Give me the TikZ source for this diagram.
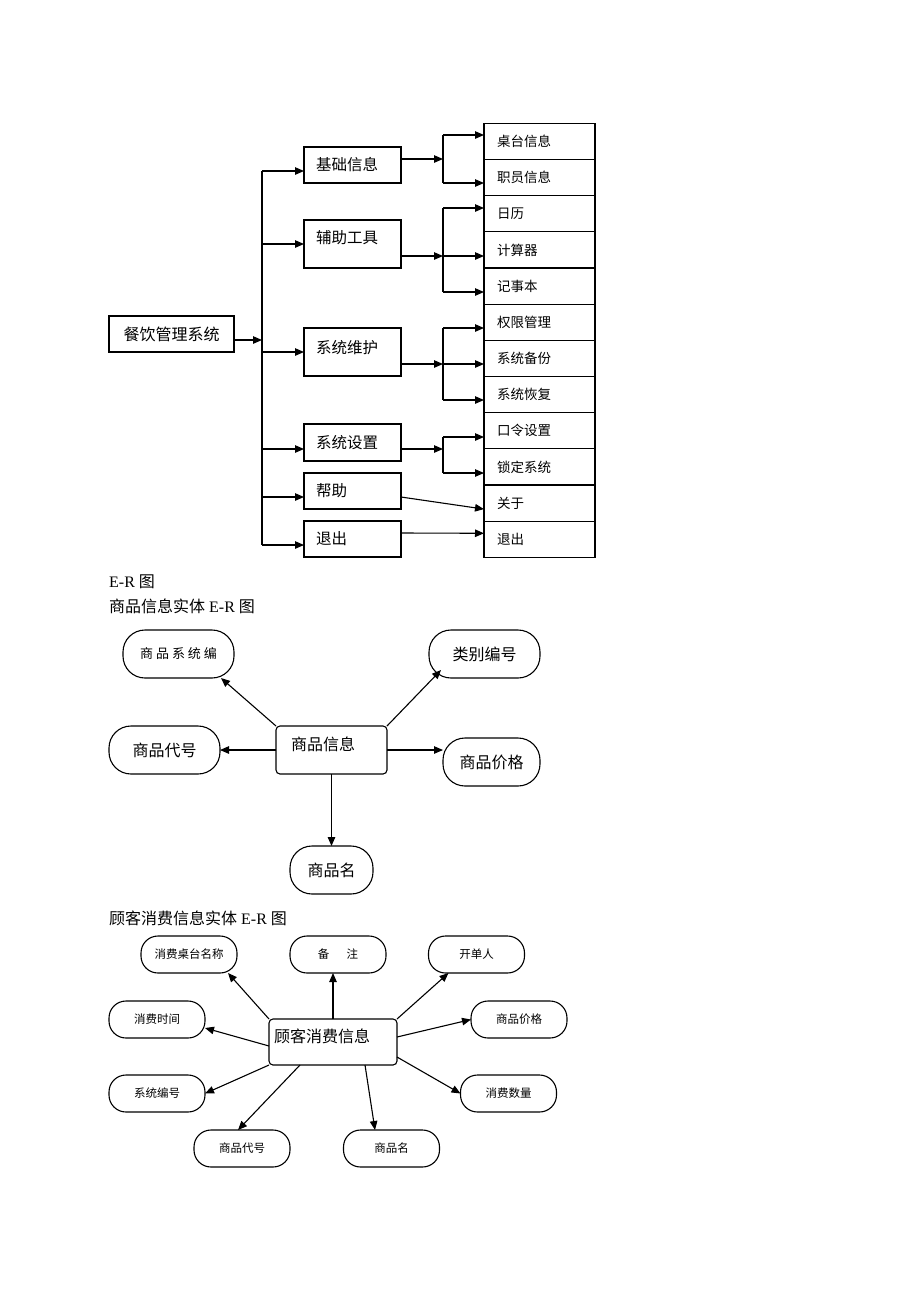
\documentclass[tikz,border=0pt]{standalone}
\usepackage{fontspec}
\setmainfont{Liberation Serif}
\newfontfamily\cjk{Noto Sans CJK SC}
\usetikzlibrary{arrows.meta,positioning,calc}
\tikzset{
  box/.style={draw,line width=1.1pt,outer sep=0pt,inner sep=0pt},
  line/.style={line width=1.1pt},
  arr/.style={line width=1.1pt,-{Triangle[length=9pt,width=7.5pt]}},
  menu/.style={box,text width=73pt,inner xsep=12pt,align=left,font=\cjk\fontsize{15.5}{18}\selectfont},
  item/.style={box,minimum height=36.17pt,text width=85pt,inner xsep=13pt,align=left,font=\cjk\fontsize{13.5}{16}\selectfont},
  ent/.style={box,rounded corners=4pt,align=left,font=\cjk\fontsize{16}{19}\selectfont},
  attr/.style={box,rounded corners=22pt,minimum width=111pt,minimum height=48pt,font=\cjk\fontsize{16}{19}\selectfont},
  sattr/.style={box,rounded corners=17pt,minimum width=96pt,minimum height=37pt,font=\cjk\fontsize{11.5}{14}\selectfont},
  title/.style={anchor=west,inner sep=0pt,font=\fontsize{16}{19}\selectfont}
}
\begin{document}
\begin{tikzpicture}[x=1pt,y=-1pt]
  \useasboundingbox (0,0) rectangle (920,1302);
  % function tree
  \node[box,minimum width=125pt,minimum height=36pt,font=\cjk\fontsize{16}{19}\selectfont] (root) at (171.5,334) {餐饮管理系统};
  \node[menu,minimum height=36pt] (m1) at (352.5,165) {基础信息};
  \node[menu,minimum height=48pt,text depth=14pt] (m2) at (352.5,244) {辅助工具};
  \node[menu,minimum height=48pt,text depth=10pt] (m3) at (352.5,352) {系统维护};
  \node[menu,minimum height=37pt] (m4) at (352.5,442.5) {系统设置};
  \node[menu,minimum height=36pt] (m5) at (352.5,491) {帮助};
  \node[menu,minimum height=36pt] (m6) at (352.5,539) {退出};
  \node[item] (r1) at (539.5,141.4) {桌台信息};
  \node[item] (r2) [below=0pt of r1] {职员信息};
  \node[item] (r3) [below=0pt of r2] {日历};
  \node[item] (r4) [below=0pt of r3] {计算器};
  \node[item] (r5) [below=0pt of r4] {记事本};
  \node[item] (r6) [below=0pt of r5] {权限管理};
  \node[item] (r7) [below=0pt of r6] {系统备份};
  \node[item] (r8) [below=0pt of r7] {系统恢复};
  \node[item] (r9) [below=0pt of r8] {口令设置};
  \node[item] (r10) [below=0pt of r9] {锁定系统};
  \node[item] (r11) [below=0pt of r10] {关于};
  \node[item] (r12) [below=0pt of r11] {退出};
%
  \coordinate (tr) at (262,340);
  \coordinate (ta) at (262,171);
  \coordinate (tb) at (262,244);
  \coordinate (tc) at (262,352);
  \coordinate (td) at (262,449);
  \coordinate (te) at (262,497);
  \coordinate (tf) at (262,545);
  \draw[arr] (root.east |- tr) -- (tr);
  \draw[line] (ta) -- (tf);
  \draw[arr] (ta) -- (ta -| m1.west);
  \draw[arr] (tb) -- (tb -| m2.west);
  \draw[arr] (tc) -- (tc -| m3.west);
  \draw[arr] (td) -- (td -| m4.west);
  \draw[arr] (te) -- (te -| m5.west);
  \draw[arr] (tf) -- (tf -| m6.west);
%
  \coordinate (j1) at (443,159);
  \coordinate (j1a) at (443,135);
  \coordinate (j1b) at (443,183);
  \draw[arr] (m1.east |- j1) -- (j1);
  \draw[line] (j1a) -- (j1b);
  \draw[arr] (j1a) -- (j1a -| r1.west);
  \draw[arr] (j1b) -- (j1b -| r2.west);
  \coordinate (j2) at (443,256);
  \coordinate (j2a) at (443,208);
  \coordinate (j2b) at (443,292);
  \draw[arr] (m2.east |- j2) -- (j2);
  \draw[line] (j2a) -- (j2b);
  \draw[arr] (j2a) -- (j2a -| r3.west);
  \draw[arr] (j2) -- (j2 -| r4.west);
  \draw[arr] (j2b) -- (j2b -| r5.west);
  \coordinate (j3) at (443,364);
  \coordinate (j3a) at (443,328);
  \coordinate (j3b) at (443,400);
  \draw[arr] (m3.east |- j3) -- (j3);
  \draw[line] (j3a) -- (j3b);
  \draw[arr] (j3a) -- (j3a -| r6.west);
  \draw[arr] (j3) -- (j3 -| r7.west);
  \draw[arr] (j3b) -- (j3b -| r8.west);
  \coordinate (j4) at (443,449);
  \coordinate (j4a) at (443,437);
  \coordinate (j4b) at (443,473);
  \draw[arr] (m4.east |- j4) -- (j4);
  \draw[line] (j4a) -- (j4b);
  \draw[arr] (j4a) -- (j4a -| r9.west);
  \draw[arr] (j4b) -- (j4b -| r10.west);
  \draw[arr] ($(m5.east)+(0,6)$) -- ($(r11.west)+(0,6)$);
  \draw[arr] ($(m6.east)+(0,-6)$) -- ($(r12.west)+(0,-6)$);
%
  % E-R of goods
  \node[title] (h1) at (109,582) {E-R {\cjk 图}};
  \node[title] (h2) at (109,606) {{\cjk 商品信息实体} E-R {\cjk 图}};
  \node[ent,minimum height=48pt,text width=81pt,inner xsep=15pt,text depth=12pt] (g0) at (331.5,750) {商品信息};
  \node[attr,font=\cjk\fontsize{13}{16}\selectfont] (g1) at (178.5,654) {商 品 系 统 编};
  \node[attr] (g2) at (484.5,654) {类别编号};
  \node[attr] (g3) at (164.5,750) {商品代号};
  \node[attr,minimum width=97pt] (g4) at (491.5,762) {商品价格};
  \node[attr,minimum width=83pt] (g5) at (331.5,870) {商品名};
  \draw[arr] (g0.north west) -- ($(g1.south east)+(-13,0)$);
  \draw[arr] (g0.north east) -- ($(g2.south west)+(12,-8)$);
  \draw[arr] (g0.west) -- (g3.east);
  \draw[arr] (g0.east) -- (g0.east -| g4.west);
  \draw[arr] (g0.south) -- (g5.north);
%
  % E-R of customer consumption
  \node[title] (h3) at (109,918) {{\cjk 顾客消费信息实体} E-R {\cjk 图}};
  \node[ent,minimum height=46pt,text width=118pt,inner xsep=5pt,text depth=12pt] (c0) at (333,1042) {顾客消费信息};
  \node[sattr] (c1) at (189,954.5) {消费桌台名称};
  \node[sattr] (c2) at (338,954.5) {备\hspace{1.5em}注};
  \node[sattr] (c3) at (476.5,954.5) {开单人};
  \node[sattr] (c4) at (157,1019.5) {消费时间};
  \node[sattr] (c5) at (519,1019.5) {商品价格};
  \node[sattr] (c6) at (157,1093.5) {系统编号};
  \node[sattr] (c7) at (508.5,1093.5) {消费数量};
  \node[sattr] (c8) at (242,1148.5) {商品代号};
  \node[sattr] (c9) at (391.5,1148.5) {商品名};
  \draw[arr] (c0.north west) -- ($(c1.south east)+(-9,0)$);
  \draw[arr] (c0.north) -- (c0.north |- c2.south);
  \draw[arr] (c0.north east) -- ($(c3.south west)+(20,0)$);
  \draw[arr] ($(c0.west)+(0,4)$) -- ($(c4.east)+(0,8.5)$);
  \draw[arr] ($(c0.east)+(0,-5)$) -- (c5.west);
  \draw[arr] (c0.south west) -- (c6.east);
  \draw[arr] ($(c0.east)+(0,15)$) -- (c7.west);
  \draw[arr] ($(c0.south west)+(31,0)$) -- ($(c8.north)+(-4,0)$);
  \draw[arr] ($(c0.south east)+(-32,0)$) -- ($(c9.north)+(-16.5,0)$);
\end{tikzpicture}
\end{document}
